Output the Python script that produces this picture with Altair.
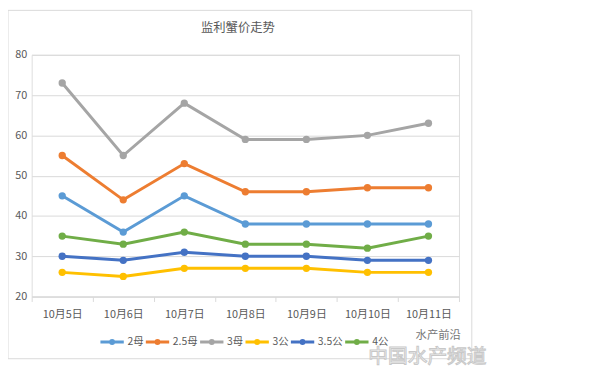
import altair as alt
import pandas as pd

dates = ["10月5日", "10月6日", "10月7日", "10月8日", "10月9日", "10月10日", "10月11日"]
series_names = ["2母", "2.5母", "3母", "3公", "3.5公", "4公"]
s_2mu = [45, 36, 45, 38, 38, 38, 38]
s_25mu = [55, 44, 53, 46, 46, 47, 47]
s_3mu = [73, 55, 68, 59, 59, 60, 63]
s_3gong = [26, 25, 27, 27, 27, 26, 26]
s_35gong = [30, 29, 31, 30, 30, 29, 29]
s_4gong = [35, 33, 36, 33, 33, 32, 35]
colors = ["#5B9BD5", "#ED7D31", "#A5A5A5", "#FFC000", "#4472C4", "#70AD47"]
y_ticks = [20, 30, 40, 50, 60, 70, 80]
title_text = "监利蟹价走势"

all_series = [s_2mu, s_25mu, s_3mu, s_3gong, s_35gong, s_4gong]
rows = []
for name, vals in zip(series_names, all_series):
    for d, v in zip(dates, vals):
        rows.append({"date": d, "price": v, "series": name})
df = pd.DataFrame(rows)

FONT = "Noto Sans CJK SC"
GREY = "#595959"
GRID = "#D9D9D9"

legend_symbol = ("M-1,0L1,0"
                 "M0.13,0A0.13,0.13 0 1,1 -0.13,0A0.13,0.13 0 1,1 0.13,0Z")

x_enc = alt.X("date:N", sort=dates, bandPosition=0.5,
              scale=alt.Scale(type="band", paddingInner=0, paddingOuter=0),
              axis=alt.Axis(title=None, labelAngle=0, tickBand="extent",
                            domainColor=GRID, tickColor=GRID, tickSize=5,
                            labelPadding=7, labelFontSize=11, labelColor=GREY,
                            labelFont=FONT, grid=False))
y_enc = alt.Y("price:Q",
              scale=alt.Scale(domain=[20, 80], nice=False, zero=False),
              axis=alt.Axis(title=None, values=y_ticks, domain=False, ticks=False,
                            gridColor=GRID, gridWidth=1, labelPadding=5,
                            labelFontSize=11, labelColor=GREY, labelFont=FONT))
color_enc = alt.Color("series:N",
                      scale=alt.Scale(domain=series_names, range=colors),
                      sort=series_names,
                      legend=alt.Legend(title=None, orient="none", direction="horizontal",
                                        legendX=68, legendY=277,
                                        symbolType=legend_symbol, symbolSize=560,
                                        symbolStrokeWidth=3, columnPadding=-19,
                                        labelOffset=2, labelFontSize=10.5,
                                        labelColor=GREY, labelFont=FONT))

base = alt.Chart(df)
lines = base.mark_line(strokeWidth=3).encode(x=x_enc, y=y_enc, color=color_enc)
points = base.mark_point(filled=True, size=55, opacity=1).encode(
    x=x_enc, y=y_enc, color=alt.Color("series:N",
                                      scale=alt.Scale(domain=series_names, range=colors),
                                      legend=None))

border = alt.Chart(pd.DataFrame({"a": [0]})).mark_rect(
    fill=None, stroke=GRID, strokeWidth=1).encode(
    x=alt.value(-24), x2=alt.value(446), y=alt.value(-45), y2=alt.value(308))

title = alt.Chart(pd.DataFrame({"t": [title_text]})).mark_text(
    font=FONT, fontSize=12.5, color=GREY, baseline="middle", align="center").encode(
    text="t:N", x=alt.value(209), y=alt.value(-27))

wm1 = alt.Chart(pd.DataFrame({"t": ["水产前沿"]})).mark_text(
    font=FONT, fontSize=11.5, color="#777777", baseline="middle", align="center").encode(
    text="t:N", x=alt.value(412), y=alt.value(285))
wm2 = alt.Chart(pd.DataFrame({"t": ["中国水产频道"]})).mark_text(
    font=FONT, fontSize=20, fill="#FFFFFF", stroke="#C8C8C8", strokeWidth=1,
    baseline="middle", align="center").encode(
    text="t:N", x=alt.value(401), y=alt.value(306))

chart = alt.layer(border, lines, points, title, wm1, wm2).properties(
    width=433, height=245,
    autosize=alt.AutoSizeParams(type="none"),
    padding={"left": 24, "top": 45, "right": 150, "bottom": 70},
).configure_view(stroke=None).configure(background="#FFFFFF")

chart.save("out.html", embed_options={"renderer": "svg", "actions": False})
